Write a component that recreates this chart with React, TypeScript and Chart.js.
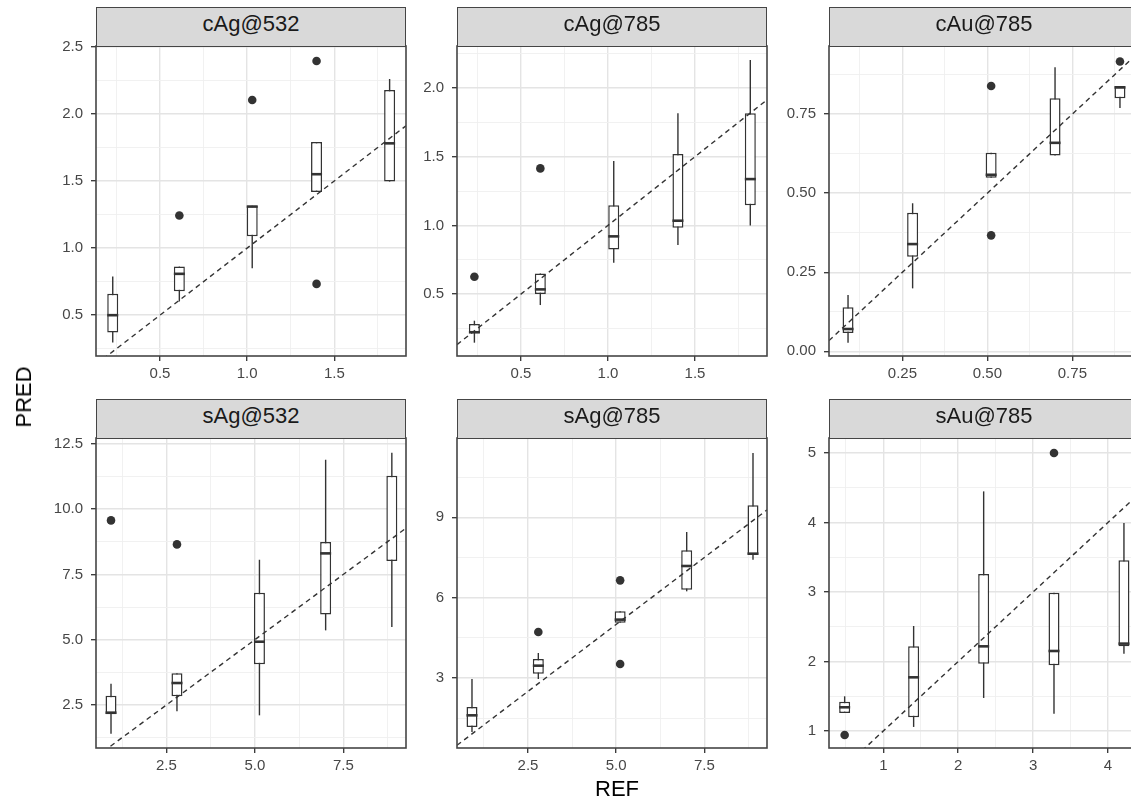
import React, { useEffect, useRef } from "react";
import { Chart, registerables } from "chart.js";

Chart.register(...registerables);

// ---- data -------------------------------------------------------------
// Box stats per REF level: [lower whisker, Q1, median, Q3, upper whisker]
// Outliers: [REF level index, PRED]

// cAg@532
const cAg532Ref = [0.229, 0.611, 1.029, 1.398, 1.817];
const cAg532Box = [
  [0.297, 0.371, 0.5, 0.659, 0.788],
  [0.602, 0.679, 0.808, 0.862, 0.862],
  [0.85, 1.088, 1.309, 1.316, 1.316],
  [1.418, 1.418, 1.55, 1.79, 1.79],
  [1.495, 1.495, 1.78, 2.177, 2.259],
];
const cAg532Out = [[1, 1.242], [2, 2.103], [3, 2.393], [3, 0.733]];
const cAg532XTicks = ["0.5", "1.0", "1.5"];
const cAg532YTicks = ["0.5", "1.0", "1.5", "2.0", "2.5"];
const cAg532Limits = [0.133, 1.911, 0.196, 2.505];

// cAg@785
const cAg785Ref = [0.232, 0.611, 1.033, 1.402, 1.818];
const cAg785Box = [
  [0.146, 0.214, 0.222, 0.282, 0.306],
  [0.42, 0.5, 0.534, 0.65, 0.65],
  [0.728, 0.825, 0.92, 1.146, 1.468],
  [0.857, 0.983, 1.034, 1.519, 1.816],
  [1.0, 1.146, 1.337, 1.816, 2.204],
];
const cAg785Out = [[0, 0.626], [1, 1.415]];
const cAg785XTicks = ["0.5", "1.0", "1.5"];
const cAg785YTicks = ["0.5", "1.0", "1.5", "2.0"];
const cAg785Limits = [0.132, 1.914, 0.049, 2.306];

// cAu@785
const cAu785Ref = [0.09, 0.28, 0.511, 0.699, 0.89];
const cAu785Box = [
  [0.027, 0.058, 0.0706, 0.139, 0.178],
  [0.199, 0.299, 0.339, 0.438, 0.468],
  [0.549, 0.549, 0.558, 0.628, 0.628],
  [0.619, 0.619, 0.659, 0.8, 0.8975],
  [0.769, 0.7995, 0.834, 0.8385, 0.8385],
];
const cAu785Out = [[2, 0.8385], [2, 0.3666], [4, 0.916]];
const cAu785XTicks = ["0.25", "0.50", "0.75"];
const cAu785YTicks = ["0.00", "0.25", "0.50", "0.75"];
const cAu785Limits = [0.034, 0.946, -0.0147, 0.965];

// sAg@532
const sAg532Ref = [0.937, 2.8, 5.13, 7.0, 8.87];
const sAg532Box = [
  [1.403, 2.143, 2.207, 2.857, 3.316],
  [2.258, 2.832, 3.342, 3.712, 3.712],
  [2.105, 4.056, 4.923, 6.798, 8.06],
  [5.357, 5.969, 8.304, 8.737, 11.888],
  [5.485, 8.01, null, 11.276, 12.156],
];
const sAg532Out = [[0, 9.566], [1, 8.648]];
const sAg532XTicks = ["2.5", "5.0", "7.5"];
const sAg532YTicks = ["2.5", "5.0", "7.5", "10.0", "12.5"];
const sAg532Limits = [0.513, 9.27, 0.855, 12.72];

// sAg@785
const sAg785Ref = [0.912, 2.793, 5.113, 7.0, 8.88];
const sAg785Box = [
  [0.983, 1.17, 1.606, 1.917, 2.963],
  [2.963, 3.162, 3.461, 3.71, 3.934],
  [5.066, 5.066, 5.18, 5.49, 5.49],
  [6.237, 6.299, 7.183, 7.768, 8.452],
  [7.419, 7.606, 7.643, 9.448, 11.403],
];
const sAg785Out = [[1, 4.718], [2, 6.647], [2, 3.523]];
const sAg785XTicks = ["2.5", "5.0", "7.5"];
const sAg785YTicks = ["3", "6", "9"];
const sAg785Limits = [0.487, 9.277, 0.386, 11.963];

// sAu@785
const sAu785Ref = [0.484, 1.405, 2.34, 3.279, 4.213];
const sAu785Box = [
  [1.259, 1.259, 1.341, 1.422, 1.499],
  [1.058, 1.197, 1.772, 2.218, 2.511],
  [1.475, 1.969, 2.218, 3.259, 4.448],
  [1.249, 1.945, 2.151, 2.99, 2.99],
  [2.113, 2.218, 2.257, 3.456, 3.993],
];
const sAu785Out = [[0, 0.942], [3, 5.0]];
const sAu785XTicks = ["1", "2", "3", "4"];
const sAu785YTicks = ["1", "2", "3", "4", "5"];
const sAu785Limits = [0.275, 4.414, 0.755, 5.216];

// ---- styling / layout -------------------------------------------------
const FONT = "'Liberation Sans', Arial, Helvetica, sans-serif";
const INK = "#333333";
const FRAME = "#454545";
const TICK_TEXT = "#474747";
const GRID_MAJOR = "#e4e4e4";
const GRID_MINOR = "#efefef";

const PANEL = 310;
const STRIP_H = 39;
const COL_LEFT = [96, 457, 829];
const ROW_TOP = [46, 438];
const AXIS_Y_W = 72;
const AXIS_X_H = 34;
const PAD_TOP = 14;
const PAD_RIGHT = 8;
const CANVAS_W = AXIS_Y_W + PANEL + PAD_RIGHT;
const CANVAS_H = PAD_TOP + PANEL + AXIS_X_H;

type Facet = {
  title: string;
  ref: number[];
  box: (number | null)[][];
  out: number[][];
  xTicks: string[];
  yTicks: string[];
  limits: number[];
};

const facets: Facet[] = [
  { title: "cAg@532", ref: cAg532Ref, box: cAg532Box, out: cAg532Out, xTicks: cAg532XTicks, yTicks: cAg532YTicks, limits: cAg532Limits },
  { title: "cAg@785", ref: cAg785Ref, box: cAg785Box, out: cAg785Out, xTicks: cAg785XTicks, yTicks: cAg785YTicks, limits: cAg785Limits },
  { title: "cAu@785", ref: cAu785Ref, box: cAu785Box, out: cAu785Out, xTicks: cAu785XTicks, yTicks: cAu785YTicks, limits: cAu785Limits },
  { title: "sAg@532", ref: sAg532Ref, box: sAg532Box, out: sAg532Out, xTicks: sAg532XTicks, yTicks: sAg532YTicks, limits: sAg532Limits },
  { title: "sAg@785", ref: sAg785Ref, box: sAg785Box, out: sAg785Out, xTicks: sAg785XTicks, yTicks: sAg785YTicks, limits: sAg785Limits },
  { title: "sAu@785", ref: sAu785Ref, box: sAu785Box, out: sAu785Out, xTicks: sAu785XTicks, yTicks: sAu785YTicks, limits: sAu785Limits },
];

// Major ticks carry labels; minor ticks sit halfway between them (grid only).
function tickPlan(labels: string[], min: number, max: number) {
  const majors = labels.map(Number);
  const step = majors[1] - majors[0];
  const minors = [majors[0] - step / 2, ...majors.map((m) => m + step / 2)];
  const values = [...majors, ...minors].filter((v) => v >= min && v <= max).sort((a, b) => a - b);
  const text = new Map<number, string>(majors.map((m, i) => [m, labels[i]]));
  return { values, text, isMajor: (v: number) => text.has(v) };
}

function axis(labels: string[], min: number, max: number, horizontal: boolean) {
  const plan = tickPlan(labels, min, max);
  const major = (ctx: any) => !!ctx.tick && plan.isMajor(ctx.tick.value);
  return {
    type: "linear",
    min,
    max,
    offset: false,
    bounds: "data",
    afterBuildTicks: (scale: any) => {
      scale.ticks = plan.values.map((value) => ({ value }));
    },
    afterFit: (scale: any) => {
      if (horizontal) {
        scale.height = AXIS_X_H;
        scale.paddingLeft = 0;
        scale.paddingRight = 0;
      } else {
        scale.width = AXIS_Y_W;
        scale.paddingTop = 0;
        scale.paddingBottom = 0;
      }
    },
    ticks: {
      autoSkip: false,
      maxRotation: 0,
      minRotation: 0,
      padding: horizontal ? 4 : 8,
      color: TICK_TEXT,
      font: { family: FONT, size: 15 },
      callback: (v: any) => plan.text.get(Number(v)) ?? "",
    },
    grid: {
      offset: false,
      drawOnChartArea: true,
      drawTicks: true,
      tickLength: 5,
      tickWidth: 1.3,
      color: (ctx: any) => (major(ctx) ? GRID_MAJOR : GRID_MINOR),
      lineWidth: (ctx: any) => (major(ctx) ? 1.4 : 0.9),
      tickColor: (ctx: any) => (major(ctx) ? INK : "rgba(0,0,0,0)"),
    },
    border: { display: false },
  };
}

// Panel border drawn over the data, like a facet frame.
const panelFrame = {
  id: "panelFrame",
  afterDatasetsDraw(chart: any) {
    const { ctx, chartArea: a } = chart;
    ctx.save();
    ctx.strokeStyle = FRAME;
    ctx.lineWidth = 1.6;
    ctx.strokeRect(a.left, a.top, a.right - a.left, a.bottom - a.top);
    ctx.restore();
  },
};

function buildConfig(f: Facet): any {
  const [xMin, xMax, yMin, yMax] = f.limits;
  const whiskers = f.ref.map((x, i) => ({ x, y: [f.box[i][0], f.box[i][4]] }));
  const hinges = f.ref.map((x, i) => ({ x, y: [f.box[i][1], f.box[i][3]] }));
  const medians = f.ref
    .map((x, i) => ({ x, y: f.box[i][2] }))
    .filter((p) => p.y !== null);
  const outliers = f.out.map(([i, y]) => ({ x: f.ref[i], y }));
  const identity = [
    { x: xMin, y: xMin },
    { x: xMax, y: xMax },
  ];

  return {
    type: "bar",
    data: {
      datasets: [
        {
          type: "bar",
          data: whiskers,
          backgroundColor: INK,
          borderWidth: 0,
          barThickness: 1.4,
          inflateAmount: 0,
          grouped: false,
          order: 4,
        },
        {
          type: "bar",
          data: hinges,
          backgroundColor: "#ffffff",
          borderColor: INK,
          borderWidth: 1.5,
          borderSkipped: false,
          barThickness: 11,
          inflateAmount: 0,
          grouped: false,
          order: 3,
        },
        {
          type: "scatter",
          data: medians,
          pointStyle: "line",
          pointRadius: 5.5,
          pointBorderColor: INK,
          pointBorderWidth: 2.6,
          order: 2,
        },
        {
          type: "scatter",
          data: outliers,
          pointStyle: "circle",
          pointRadius: 4.3,
          pointBackgroundColor: INK,
          pointBorderWidth: 0,
          order: 2,
        },
        {
          type: "line",
          data: identity,
          borderColor: INK,
          borderWidth: 1.4,
          borderDash: [5, 4],
          pointRadius: 0,
          fill: false,
          order: 1,
        },
      ],
    },
    options: {
      responsive: false,
      animation: false,
      events: [],
      layout: { padding: { top: PAD_TOP, right: PAD_RIGHT, bottom: 0, left: 0 }, autoPadding: false },
      plugins: { legend: { display: false }, tooltip: { enabled: false }, title: { display: false } },
      scales: {
        x: axis(f.xTicks, xMin, xMax, true),
        y: axis(f.yTicks, yMin, yMax, false),
      },
    },
    plugins: [panelFrame],
  };
}

function FacetChart({ facet, left, top }: { facet: Facet; left: number; top: number }) {
  const canvasRef = useRef<HTMLCanvasElement | null>(null);
  useEffect(() => {
    const canvas = canvasRef.current;
    if (!canvas) return;
    const chart = new Chart(canvas, buildConfig(facet));
    return () => chart.destroy();
  }, [facet]);
  return (
    <canvas
      ref={canvasRef}
      width={CANVAS_W}
      height={CANVAS_H}
      style={{ position: "absolute", left: left - AXIS_Y_W, top: top - PAD_TOP, width: CANVAS_W, height: CANVAS_H }}
    />
  );
}

function Strip({ title, left, top }: { title: string; left: number; top: number }) {
  return (
    <div
      style={{
        position: "absolute",
        left,
        top: top - STRIP_H,
        width: PANEL,
        height: STRIP_H + 0.75,
        boxSizing: "border-box",
        background: "#d9d9d9",
        border: `1.5px solid ${FRAME}`,
        color: "#1a1a1a",
        fontFamily: FONT,
        fontSize: 22,
        lineHeight: "32px",
        textAlign: "center",
        whiteSpace: "nowrap",
      }}
    >
      {title}
    </div>
  );
}

export default function App() {
  return (
    <div style={{ position: "fixed", left: 0, top: 0, width: 1131, height: 803, overflow: "hidden", background: "#ffffff" }}>
      {facets.map((f, i) => (
        <FacetChart key={f.title} facet={f} left={COL_LEFT[i % 3]} top={ROW_TOP[Math.floor(i / 3)]} />
      ))}
      {facets.map((f, i) => (
        <Strip key={`s-${f.title}`} title={f.title} left={COL_LEFT[i % 3]} top={ROW_TOP[Math.floor(i / 3)]} />
      ))}
      <div
        style={{
          position: "absolute",
          left: 617,
          top: 778,
          transform: "translateX(-50%)",
          fontFamily: FONT,
          fontSize: 22,
          lineHeight: "22px",
          color: "#000",
          whiteSpace: "nowrap",
        }}
      >
        REF
      </div>
      <div
        style={{
          position: "absolute",
          left: 23.5,
          top: 397,
          transform: "translate(-50%, -50%) rotate(-90deg)",
          fontFamily: FONT,
          fontSize: 22,
          lineHeight: "22px",
          color: "#000",
          whiteSpace: "nowrap",
        }}
      >
        PRED
      </div>
    </div>
  );
}
